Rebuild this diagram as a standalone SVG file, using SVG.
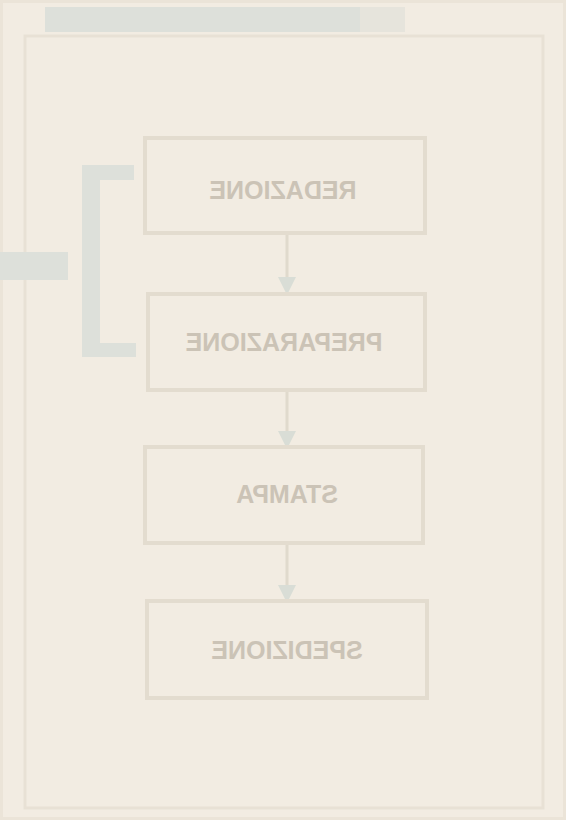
<svg xmlns="http://www.w3.org/2000/svg" width="566" height="820" viewBox="0 0 566 820">
<style>
.box{fill:#f2ece2;stroke:#e3dccf;stroke-width:4}
.lbl{font-family:"Liberation Sans",Arial,sans-serif;font-size:25px;font-weight:bold;fill:#cbc3b6;text-anchor:middle}
.band{fill:#dde0da}
.con{stroke:#e0dacd;stroke-width:3;fill:none}
</style>
<defs>
<marker id="ah" markerWidth="6" markerHeight="6" refX="3" refY="3" orient="auto" markerUnits="strokeWidth">
<path d="M0,0 L6,3 L0,6 z" fill="#d9ddd6"/>
</marker>
</defs>
<rect width="566" height="820" fill="#f2ece2"/>
<rect x="0" y="0" width="566" height="820" fill="none" stroke="#ebe4d8" stroke-width="6"/>
<rect x="25" y="36" width="518" height="772" fill="none" stroke="#e8e1d5" stroke-width="3"/>
<rect class="band" x="45" y="7" width="315" height="25"/>
<rect x="360" y="7" width="45" height="25" fill="#e6e4dc"/>
<rect class="band" x="0" y="252" width="68" height="28"/>
<g id="bracket">
<rect class="band" x="82" y="165" width="18" height="192"/>
<rect class="band" x="82" y="165" width="52" height="15"/>
<rect class="band" x="82" y="343" width="54" height="14"/>
</g>
<g id="connectors">
<line class="con" x1="287" y1="235" x2="287" y2="286" marker-end="url(#ah)"/>
<line class="con" x1="287" y1="392" x2="287" y2="440" marker-end="url(#ah)"/>
<line class="con" x1="287" y1="545" x2="287" y2="594" marker-end="url(#ah)"/>
</g>
<g id="redazione">
<rect class="box" x="145" y="138" width="280" height="95"/>
<text class="lbl" transform="translate(283,199) scale(-1,1)">REDAZIONE</text>
</g>
<g id="preparazione">
<rect class="box" x="148" y="294" width="277" height="96"/>
<text class="lbl" transform="translate(284,351) scale(-1,1)">PREPARAZIONE</text>
</g>
<g id="stampa">
<rect class="box" x="145" y="447" width="278" height="96"/>
<text class="lbl" transform="translate(287,503) scale(-1,1)">STAMPA</text>
</g>
<g id="spedizione">
<rect class="box" x="147" y="601" width="280" height="97"/>
<text class="lbl" transform="translate(287,659) scale(-1,1)">SPEDIZIONE</text>
</g>
</svg>
